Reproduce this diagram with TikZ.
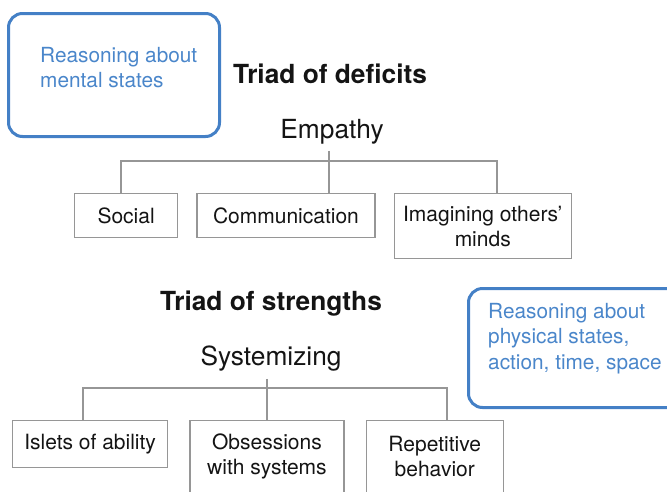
\documentclass[tikz,border=0pt]{standalone}
\usepackage{fontspec}
\setmainfont{TeX Gyre Heros}
\usetikzlibrary{positioning}
\definecolor{reasonblue}{RGB}{68,128,198}
\definecolor{reasontext}{RGB}{74,134,202}
\definecolor{boxgray}{RGB}{150,150,150}
\definecolor{textdark}{RGB}{20,20,20}
\newcommand{\boxfont}{\fontsize{21}{25}\selectfont}
\newcommand{\headfont}{\fontsize{26.3}{30}\selectfont\bfseries}
\newcommand{\rootfont}{\fontsize{26.3}{30}\selectfont}
\newcommand{\reasonfont}{\fontsize{20.8}{25.5}\selectfont}

\begin{document}
\begin{tikzpicture}[x=1pt, y=-1pt, node distance=18pt,
    item/.style={draw=boxgray, line width=1.3pt, text=textdark, font=\boxfont,
      align=center, inner sep=0pt, minimum height=44pt},
    reason/.style={draw=reasonblue, line width=3pt, rounded corners=14pt, inner sep=0pt},
    reasontxt/.style={text=reasontext, font=\reasonfont, align=left, inner sep=0pt},
    head/.style={text=textdark, font=\headfont, inner sep=0pt},
    root/.style={text=textdark, font=\rootfont, inner sep=0pt},
    tree/.style={draw=boxgray, line width=1.2pt}]
  \useasboundingbox (0,0) rectangle (667,491);
  \clip (0,0) rectangle (667,491);

  % deficits
  \node[reason, minimum width=211pt, minimum height=123pt, anchor=north west] (mental) at (7,12) {};
  \node[reasontxt, anchor=north west] (mentaltxt) at (40,47) {Reasoning about\\mental states};
  \node[head, anchor=base] (deficits) at (330,83) {Triad of deficits};
  \node[root, anchor=base] (empathy) at (332,138) {Empathy};

  \node[item, minimum width=103pt, anchor=north west] (social) at (74,193) {Social};
  \node[item, minimum width=178pt, right=of social] (communication) {Communication};
  \node[item, minimum width=177pt, minimum height=65pt, right=of communication.north east,
    anchor=north west] (imagining) {Imagining others'\\minds};

  \coordinate (dleft) at (121,161);
  \coordinate (dmid) at (329,161);
  \coordinate (dright) at (497,161);
  \draw[tree] (dleft |- social.north) -- (dleft) -- (dright) -- (dright |- imagining.north);
  \draw[tree] ([yshift=-7pt]dmid |- empathy.south) -- (dmid |- communication.north);

  % strengths
  \node[head, anchor=base] (strengths) at (271,310) {Triad of strengths};
  \node[root, anchor=base] (systemizing) at (271,365) {Systemizing};
  \node[reason, minimum width=230pt, minimum height=119pt, anchor=north west] (physical) at (467,287) {};
  \node[reasontxt, anchor=north west] (physicaltxt) at (488,303) {Reasoning about\\physical states,\\action, time, space};

  \node[item, minimum width=155pt, minimum height=47pt, anchor=north west] (islets) at (12,420) {Islets of ability};
  \node[item, minimum width=154pt, minimum height=72pt, right=21pt of islets.north east,
    anchor=north west] (obsessions) {Obsessions\\with systems};
  \node[item, minimum width=137pt, minimum height=72pt, right=21pt of obsessions.north east,
    anchor=north west] (repetitive) {Repetitive\\behavior};

  \coordinate (sleft) at (83,388);
  \coordinate (smid) at (267,388);
  \coordinate (sright) at (447,388);
  \draw[tree] (sleft |- islets.north) -- (sleft) -- (sright) -- (sright |- repetitive.north);
  \draw[tree] ([yshift=-8pt]smid |- systemizing.south) -- (smid |- obsessions.north);
\end{tikzpicture}
\end{document}
